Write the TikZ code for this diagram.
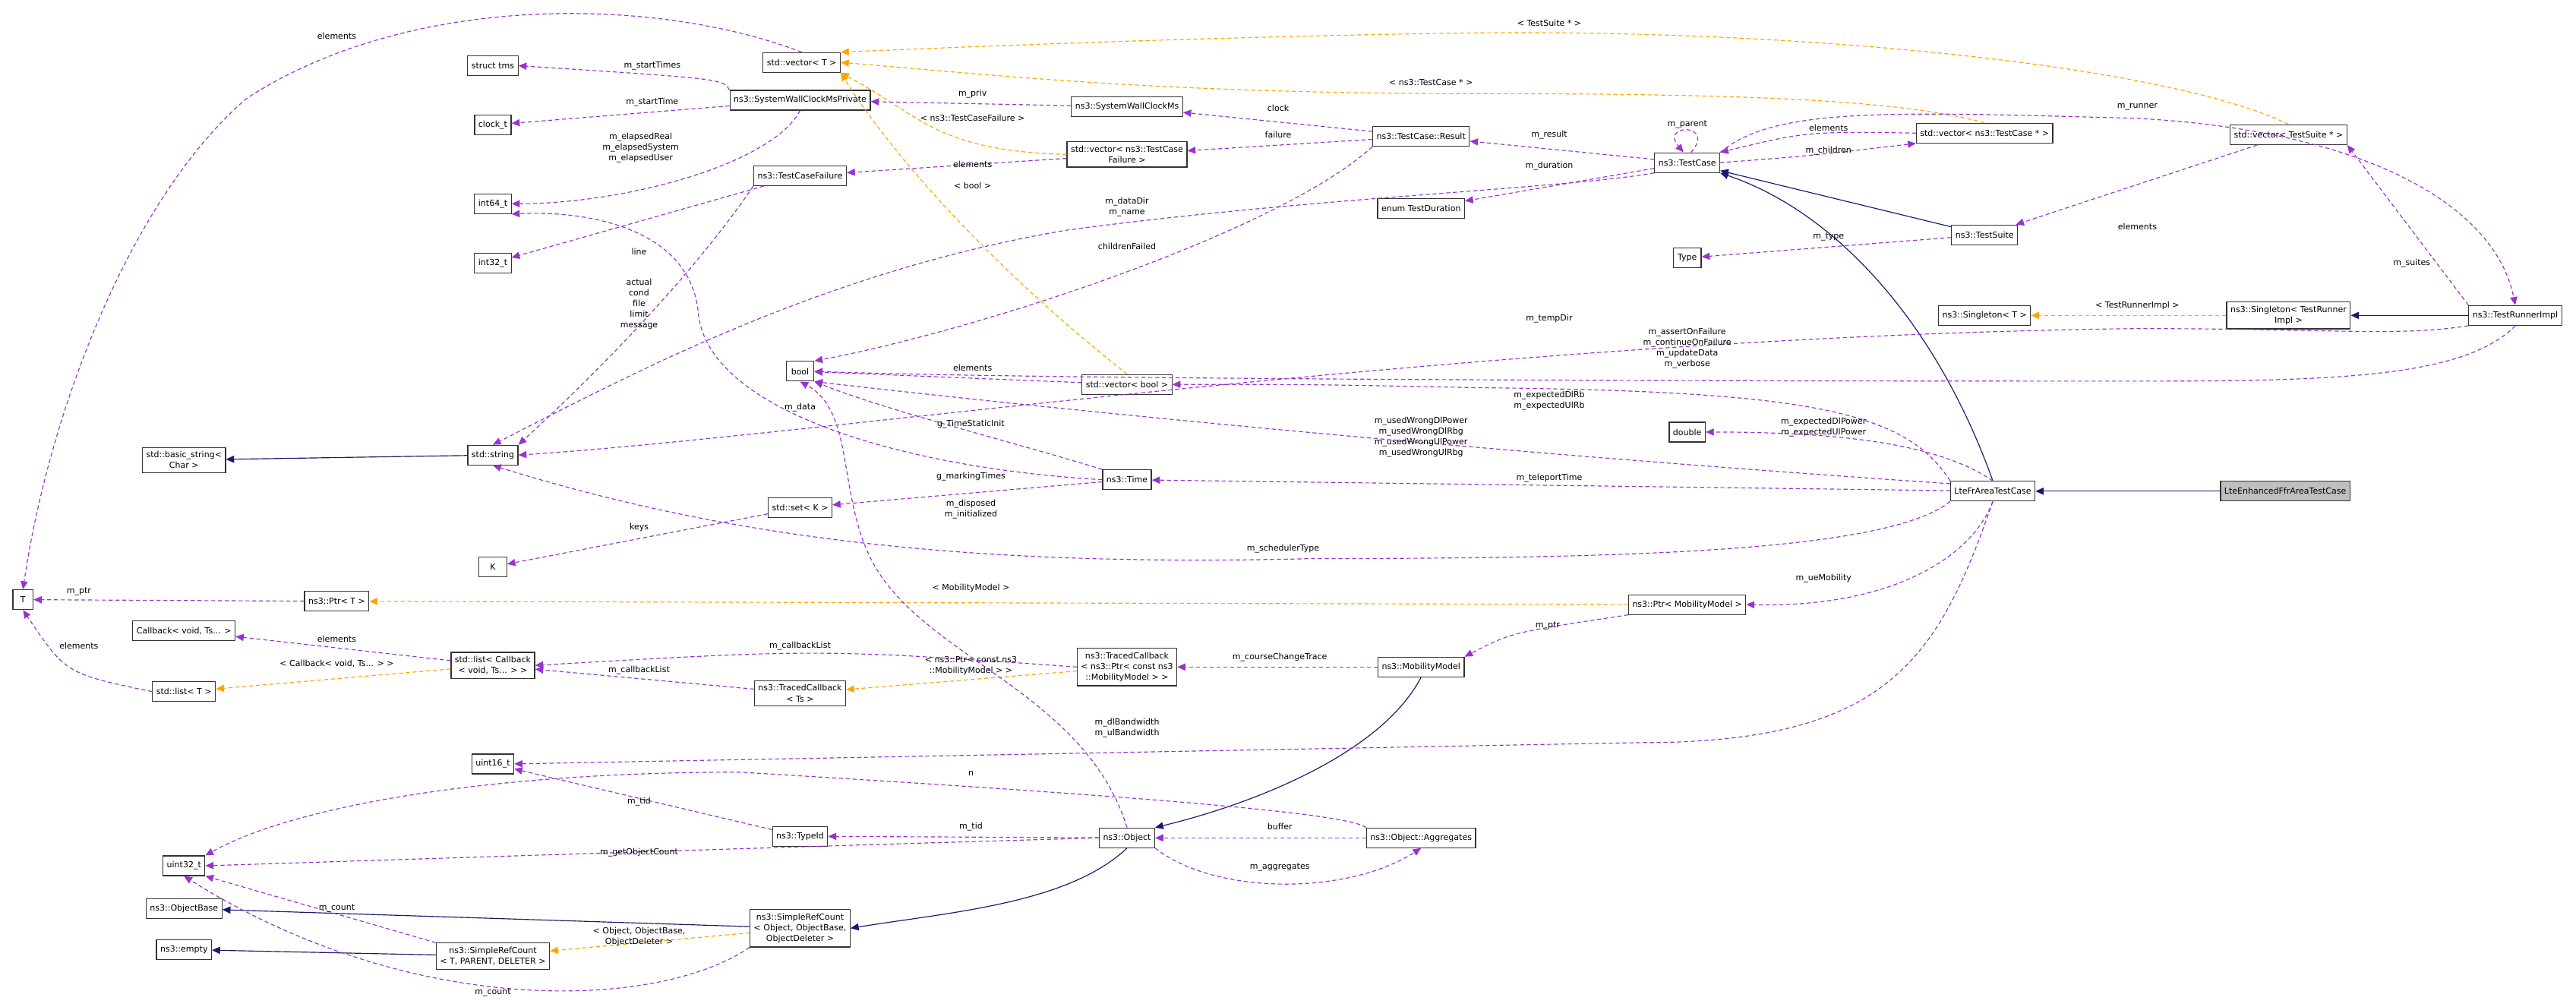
\documentclass[tikz,border=0pt]{standalone}
\usepackage{fontspec}
\setmainfont{DejaVu Sans}
\usetikzlibrary{arrows.meta}
\definecolor{usecol}{HTML}{9A32CD}
\definecolor{tplcol}{HTML}{FFA500}
\definecolor{inhcol}{HTML}{191970}
\definecolor{curcol}{HTML}{BFBFBF}

\begin{document}
\begin{tikzpicture}[x=0.649mm,y=-0.649mm,
   every node/.append style={font=\fontsize{9.4}{12}\selectfont},
   cls/.style={draw=black!80,line width=0.35mm,fill=white,inner xsep=1.5mm,inner ysep=1.6mm,
     minimum height=7.8mm,minimum width=11mm,align=center},
   member/.style={usecol,dash pattern=on 1.6mm off 1.1mm,line width=0.35mm,
     -{Triangle[length=3.2mm,width=2.8mm]}},
   tmpl/.style={member,tplcol},
   inherit/.style={inhcol,line width=0.35mm,-{Triangle[length=3.2mm,width=2.8mm]}},
   lbl/.style={inner sep=0.5pt,align=center}
]
\useasboundingbox (0,0) rectangle (1568,612.6);

% classes
\node[cls] (tms) at (300,40) {struct tms};
\node[cls] (clock) at (300,76) {clock\_t};
\node[cls] (int64) at (300,124) {int64\_t};
\node[cls] (int32) at (300,160) {int32\_t};
\node[cls] (basic) at (112,280) {std::basic\_string<\\Char >};
\node[cls] (string) at (300,277) {std::string};
\node[cls] (vecT) at (488,38) {std::vector< T >};
\node[cls] (wallPriv) at (487,61) {ns3::SystemWallClockMsPrivate};
\node[cls] (wall) at (686,65) {ns3::SystemWallClockMs};
\node[cls] (vecFail) at (686,94) {std::vector< ns3::TestCase\\Failure >};
\node[cls] (fail) at (487,107) {ns3::TestCaseFailure};
\node[cls] (result) at (865,83) {ns3::TestCase::Result};
\node[cls] (duration) at (865,127) {enum TestDuration};
\node[cls] (tcase) at (1027,99) {ns3::TestCase};
\node[cls] (type) at (1027,157) {Type};
\node[cls] (vecCase) at (1208,81) {std::vector< ns3::TestCase * >};
\node[cls] (suite) at (1208,143) {ns3::TestSuite};
\node[cls] (vecSuite) at (1393,82) {std::vector< TestSuite * >};
\node[cls] (singT) at (1208,192) {ns3::Singleton< T >};
\node[cls] (singRun) at (1393,192) {ns3::Singleton< TestRunner\\Impl >};
\node[cls] (runner) at (1531,192) {ns3::TestRunnerImpl};
\node[cls] (bool) at (487,226) {bool};
\node[cls] (vecBool) at (686,234) {std::vector< bool >};
\node[cls] (double) at (1027,263) {double};
\node[cls] (time) at (686,292) {ns3::Time};
\node[cls] (setK) at (487,309) {std::set< K >};
\node[cls] (K) at (300,345) {K};
\node[cls] (frCase) at (1213,299) {LteFrAreaTestCase};
\node[cls,fill=curcol] (effCase) at (1391,299) {LteEnhancedFfrAreaTestCase};
\node[cls,minimum width=8mm] (T) at (14,365) {T};
\node[cls] (ptrT) at (205,366) {ns3::Ptr< T >};
\node[cls] (ptrMob) at (1027,368) {ns3::Ptr< MobilityModel >};
\node[cls] (cback) at (112,384) {Callback< void, Ts... >};
\node[cls] (listCb) at (300,405) {std::list< Callback\\< void, Ts... > >};
\node[cls] (listT) at (112,421) {std::list< T >};
\node[cls] (tracedTs) at (487,422) {ns3::TracedCallback\\< Ts >};
\node[cls] (tracedMob) at (686,406) {ns3::TracedCallback\\< ns3::Ptr< const ns3\\::MobilityModel > >};
\node[cls] (mobility) at (865,406) {ns3::MobilityModel};
\node[cls] (uint16) at (300,465) {uint16\_t};
\node[cls] (typeId) at (487,509) {ns3::TypeId};
\node[cls] (object) at (686,510) {ns3::Object};
\node[cls] (aggr) at (865,510) {ns3::Object::Aggregates};
\node[cls] (uint32) at (112,527) {uint32\_t};
\node[cls] (objBase) at (112,553) {ns3::ObjectBase};
\node[cls] (refObj) at (487,565) {ns3::SimpleRefCount\\< Object, ObjectBase,\\ObjectDeleter >};
\node[cls] (empty) at (112,578) {ns3::empty};
\node[cls] (refT) at (300,582) {ns3::SimpleRefCount\\< T, PARENT, DELETER >};

% template instances
\draw[tmpl] (vecSuite.north) .. controls (1320,40) and (1100,18) .. (900,20) .. controls (750,22) and (600,28) .. (vecT.north east);
\draw[tmpl] (vecCase.north) .. controls (1160,62) and (1080,57) .. (900,57) .. controls (700,57) and (600,45) .. (vecT.east);
\draw[tmpl] (vecFail.west) .. controls (570,92) and (560,70) .. (vecT.south east);
\draw[tmpl] (vecBool.north) .. controls (600,160) and (540,90) .. (vecT.south east);
\draw[tmpl] (singRun) -- (singT);
\draw[tmpl] (ptrMob) -- (ptrT);
\draw[tmpl] (listCb) -- (listT);
\draw[tmpl] (tracedMob) -- (tracedTs);
\draw[tmpl] (refObj) -- (refT);

% inheritance
\draw[inherit] (string) -- (basic);
\draw[inherit] (suite) -- (tcase);
\draw[inherit] (frCase.north) .. controls (1180,200) and (1120,130) .. (tcase.south east);
\draw[inherit] (runner) -- (singRun);
\draw[inherit] (effCase) -- (frCase);
\draw[inherit] (mobility.south) .. controls (840,460) and (760,490) .. (object.north east);
\draw[inherit] (object.south) .. controls (650,550) and (580,555) .. (refObj.east);
\draw[inherit] (refObj) -- (objBase);
\draw[inherit] (refT) -- (empty);

% members
\draw[member] (vecT.north) .. controls (400,-2) and (250,-5) .. (150,60) .. controls (80,120) and (30,250) .. (T.north);
\draw[member] (wallPriv.north west) .. controls (440,48) .. (tms.east);
\draw[member] (wallPriv) -- (clock);
\draw[member] (wallPriv.south) .. controls (470,100) and (380,124) .. (int64.east);
\draw[member] (wall) -- (wallPriv);
\draw[member] (vecFail) -- (fail);
\draw[member] (fail) -- (int32);
\draw[member] (fail.south west) .. controls (420,170) and (360,230) .. (string.north east);
\draw[member] (result) -- (wall);
\draw[member] (result) -- (vecFail);
\draw[member] (result.south west) .. controls (780,140) and (600,200) .. (bool.north east);
\draw[member] (tcase) -- (result);
\draw[member] (tcase) -- (duration);
\draw[member] (tcase.south west) .. controls (950,115) and (800,120) .. (650,140) .. controls (500,165) and (380,230) .. (string.north);
\draw[member] (tcase.70) .. controls (1045,75) and (1010,75) .. (tcase.110);
\draw[member] (vecCase.west) .. controls (1100,80) .. (tcase.north east);
\draw[member] (tcase.east) .. controls (1100,95) .. (vecCase.south west);
\draw[member] (suite) -- (type);
\draw[member] (vecSuite) -- (suite);
\draw[member] (runner.north west) -- (vecSuite.south east);
\draw[member] (tcase.north east) .. controls (1080,65) and (1150,68) .. (1300,72) .. controls (1450,80) and (1520,130) .. (runner.north);
\draw[member] (runner.south west) .. controls (1460,205) and (1420,200) .. (1300,200) .. controls (900,205) and (500,265) .. (string.east);
\draw[member] (runner.south) .. controls (1500,230) and (1420,232) .. (1300,232) .. controls (900,232) and (600,230) .. (bool.east);
\draw[member] (vecBool) -- (bool);
\draw[member] (frCase.north west) .. controls (1160,250) and (1100,238) .. (900,236) .. controls (800,234) .. (vecBool.east);
\draw[member] (frCase.170) .. controls (900,275) and (650,250) .. (bool.south east);
\draw[member] (frCase.north) .. controls (1180,270) and (1120,263) .. (double.east);
\draw[member] (frCase) -- (time);
\draw[member] (frCase.south west) .. controls (1150,335) and (1000,340) .. (800,340) .. controls (600,345) and (450,330) .. (string.south);
\draw[member] (time.north west) .. controls (620,270) and (540,250) .. (bool.south east);
\draw[member] (time.west) .. controls (550,285) and (430,250) .. (425,190) .. controls (420,140) and (360,128) .. (int64.south east);
\draw[member] (time) -- (setK);
\draw[member] (setK) -- (K);
\draw[member] (object.north) .. controls (660,420) and (560,400) .. (530,340) .. controls (510,300) and (520,250) .. (bool.south);
\draw[member] (ptrT) -- (T);
\draw[member] (listT.west) .. controls (40,410) .. (T.south);
\draw[member] (listCb) -- (cback);
\draw[member] (tracedTs) -- (listCb);
\draw[member] (tracedMob.west) .. controls (500,395) .. (listCb.east);
\draw[member] (mobility) -- (tracedMob);
\draw[member] (ptrMob.south west) .. controls (920,385) .. (mobility.north east);
\draw[member] (frCase.south) .. controls (1200,340) and (1150,370) .. (ptrMob.east);
\draw[member] (frCase.south) .. controls (1180,400) and (1150,452) .. (1000,452) -- (uint16.east);
\draw[member] (typeId) -- (uint16);
\draw[member] (object) -- (typeId);
\draw[member] (object.west) .. controls (500,515) .. (uint32.east);
\draw[member] (aggr.north west) .. controls (820,495) and (700,485) .. (450,470) .. controls (300,470) and (180,490) .. (uint32.north east);
\draw[member] (aggr) -- (object);
\draw[member] (object.south east) .. controls (740,545) and (820,545) .. (aggr.south);
\draw[member] (refT.north west) -- (uint32.south east);
\draw[member] (refObj.south west) .. controls (400,615) and (250,620) .. (uint32.south);

% labels
\node[lbl] (lSuiteTpl) at (943,14) {< TestSuite * >};
\node[lbl] (lCaseTpl) at (871,50) {< ns3::TestCase * >};
\node[lbl] (lElemT) at (205,22) {elements};
\node[lbl] (lStartTimes) at (397,40) {m\_startTimes};
\node[lbl] (lStartTime) at (397,62) {m\_startTime};
\node[lbl] (lElapsed) at (390,90) {m\_elapsedReal\\m\_elapsedSystem\\m\_elapsedUser};
\node[lbl] (lPriv) at (592,57) {m\_priv};
\node[lbl] (lFailTpl) at (592,72) {< ns3::TestCaseFailure >};
\node[lbl] (lClock) at (778,66) {clock};
\node[lbl] (lFailure) at (778,82) {failure};
\node[lbl] (lResult) at (943,82) {m\_result};
\node[lbl] (lDuration) at (943,101) {m\_duration};
\node[lbl] (lParent) at (1027,76) {m\_parent};
\node[lbl] (lElemCase) at (1113,78) {elements};
\node[lbl] (lChildren) at (1113,92) {m\_children};
\node[lbl] (lType) at (1113,144) {m\_type};
\node[lbl] (lElemSuite) at (1301,138) {elements};
\node[lbl] (lSuites) at (1468,160) {m\_suites};
\node[lbl] (lRunner) at (1301,65) {m\_runner};
\node[lbl] (lRunTpl) at (1301,186) {< TestRunnerImpl >};
\node[lbl] (lLine) at (389,153) {line};
\node[lbl] (lActual) at (389,185) {actual\\cond\\file\\limit\\message};
\node[lbl] (lElemFail) at (592,100) {elements};
\node[lbl] (lBoolTpl) at (592,113) {< bool >};
\node[lbl] (lDataDir) at (686,126) {m\_dataDir\\m\_name};
\node[lbl] (lChildFail) at (686,150) {childrenFailed};
\node[lbl] (lTempDir) at (943,194) {m\_tempDir};
\node[lbl] (lAssert) at (1027,212) {m\_assertOnFailure\\m\_continueOnFailure\\m\_updateData\\m\_verbose};
\node[lbl] (lExpRb) at (943,244) {m\_expectedDlRb\\m\_expectedUlRb};
\node[lbl] (lWrong) at (865,266) {m\_usedWrongDlPower\\m\_usedWrongDlRbg\\m\_usedWrongUlPower\\m\_usedWrongUlRbg};
\node[lbl] (lExpPow) at (1110,260) {m\_expectedDlPower\\m\_expectedUlPower};
\node[lbl] (lTeleport) at (943,291) {m\_teleportTime};
\node[lbl] (lElemBool) at (592,224) {elements};
\node[lbl] (lData) at (487,248) {m\_data};
\node[lbl] (lStatic) at (591,258) {g\_TimeStaticInit};
\node[lbl] (lMarking) at (591,290) {g\_markingTimes};
\node[lbl] (lDisposed) at (591,310) {m\_disposed\\m\_initialized};
\node[lbl] (lKeys) at (389,321) {keys};
\node[lbl] (lSched) at (781,334) {m\_schedulerType};
\node[lbl] (lMobTpl) at (591,358) {< MobilityModel >};
\node[lbl] (lUeMob) at (1110,352) {m\_ueMobility};
\node[lbl] (lPtr) at (942,381) {m\_ptr};
\node[lbl] (lCourse) at (779,400) {m\_courseChangeTrace};
\node[lbl] (lCbList1) at (487,393) {m\_callbackList};
\node[lbl] (lPtrConst) at (591,405) {< ns3::Ptr< const ns3\\::MobilityModel > >};
\node[lbl] (lCbList2) at (389,408) {m\_callbackList};
\node[lbl] (lElemCb) at (205,389) {elements};
\node[lbl] (lCbTpl) at (205,404) {< Callback< void, Ts... > >};
\node[lbl] (lPtrT) at (48,360) {m\_ptr};
\node[lbl] (lElemList) at (48,393) {elements};
\node[lbl] (lBand) at (686,443) {m\_dlBandwidth\\m\_ulBandwidth};
\node[lbl] (lN) at (591,471) {n};
\node[lbl] (lTid) at (591,503) {m\_tid};
\node[lbl] (lTid2) at (389,488) {m\_tid};
\node[lbl] (lGetCount) at (389,519) {m\_getObjectCount};
\node[lbl] (lBuffer) at (779,503) {buffer};
\node[lbl] (lAggr) at (779,528) {m\_aggregates};
\node[lbl] (lCount1) at (205,553) {m\_count};
\node[lbl] (lCount2) at (300,604) {m\_count};
\node[lbl] (lRefTpl) at (389,570) {< Object, ObjectBase,\\ObjectDeleter >};
\end{tikzpicture}
\end{document}
